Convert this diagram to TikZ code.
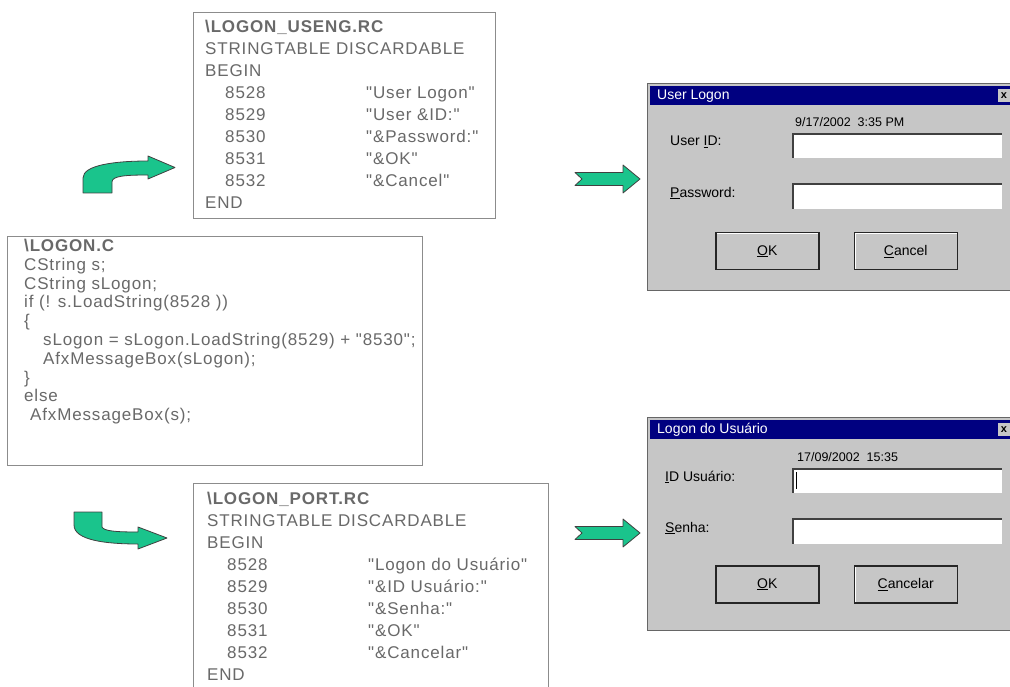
\documentclass[tikz,border=0pt]{standalone}
\usepackage{fontspec}
\setmainfont{Liberation Sans}
\newfontfamily\codefont[LetterSpace=5]{Liberation Sans}
\usetikzlibrary{positioning}

\definecolor{codegray}{RGB}{105,105,105}
\definecolor{boxgray}{RGB}{140,140,140}
\definecolor{arrowgreen}{RGB}{26,196,140}
\definecolor{dlggray}{RGB}{198,198,198}
\definecolor{navy}{RGB}{0,0,128}

\begin{document}
\begin{tikzpicture}[
    x=1pt, y=-1pt,
    codebox/.style={rectangle, draw=boxgray, line width=1.3pt, fill=white, anchor=north west, inner sep=0pt},
    codetext/.style={align=left, inner sep=0pt, text=codegray, font=\codefont\fontsize{17}{22}\selectfont},
    blockarrow/.style={fill=arrowgreen, draw=black!75, line width=0.8pt, line join=round},
    dialog/.style={rectangle, fill=dlggray, draw=black!60, line width=1.2pt, anchor=north west, inner sep=0pt},
    titlebar/.style={rectangle, fill=navy, anchor=north west, inner sep=0pt},
    titletext/.style={text=white, font=\fontsize{14}{16}\selectfont, anchor=west, inner sep=0pt},
    dlglabel/.style={font=\fontsize{14}{16}\selectfont, anchor=west, inner sep=0pt},
    datetext/.style={font=\fontsize{12.5}{14}\selectfont, anchor=west, inner sep=0pt},
    field/.style={rectangle, fill=white, anchor=north west, inner sep=0pt, minimum width=210pt, minimum height=25pt,
      path picture={\draw[black!75, line width=3pt] (path picture bounding box.south west) |- (path picture bounding box.north east);}},
    button/.style={rectangle, fill=dlggray, draw=black!85, line width=1.5pt, inner sep=0pt, anchor=north west,
      minimum width=103pt, minimum height=37pt, font=\fontsize{14}{16}\selectfont,
      path picture={\draw[white, line width=3pt] (path picture bounding box.south west) |- (path picture bounding box.north east);}},
    closebox/.style={rectangle, fill=dlggray, inner sep=0pt, minimum width=13pt, minimum height=13pt, font=\bfseries\fontsize{11}{11}\selectfont}
    ]

    \useasboundingbox (0,0) rectangle (1010,687);

    % English string table
    \node[codebox, minimum width=302pt, minimum height=206pt] (useng) at (193,12) {};
    \node[codetext, below right=8pt and 12pt of useng.north west] (usengtext) {%
      \textbf{\textbackslash LOGON\_USENG.RC}\\
      STRINGTABLE DISCARDABLE\\
      BEGIN\\
      \hspace*{20pt}\makebox[141pt][l]{8528}"User Logon"\\
      \hspace*{20pt}\makebox[141pt][l]{8529}"User \&ID:"\\
      \hspace*{20pt}\makebox[141pt][l]{8530}"\&Password:"\\
      \hspace*{20pt}\makebox[141pt][l]{8531}"\&OK"\\
      \hspace*{20pt}\makebox[141pt][l]{8532}"\&Cancel"\\
      END};

    % Source file
    \node[codebox, minimum width=415pt, minimum height=229pt] (logonc) at (7,236) {};
    \node[codetext, font=\codefont\fontsize{17}{18.8}\selectfont, below right=3pt and 17pt of logonc.north west] (logonctext) {%
      \textbf{\textbackslash LOGON.C}\\
      CString s;\\
      CString sLogon;\\
      if (! s.LoadString(8528 ))\\
      \{\\
      \hspace*{19pt}sLogon = sLogon.LoadString(8529) + "8530";\\
      \hspace*{19pt}AfxMessageBox(sLogon);\\
      \}\\
      else\\
      \hspace*{6pt}AfxMessageBox(s);};

    % Portuguese string table
    \node[codebox, minimum width=355pt, minimum height=225pt] (port) at (193,483) {};
    \node[codetext, below right=9pt and 14pt of port.north west] (porttext) {%
      \textbf{\textbackslash LOGON\_PORT.RC}\\
      STRINGTABLE DISCARDABLE\\
      BEGIN\\
      \hspace*{20pt}\makebox[141pt][l]{8528}"Logon do Usuário"\\
      \hspace*{20pt}\makebox[141pt][l]{8529}"\&ID Usuário:"\\
      \hspace*{20pt}\makebox[141pt][l]{8530}"\&Senha:"\\
      \hspace*{20pt}\makebox[141pt][l]{8531}"\&OK"\\
      \hspace*{20pt}\makebox[141pt][l]{8532}"\&Cancelar"\\
      END};

    % Bent arrows out of the source file
    \draw[blockarrow] (83,193) -- (83,178) .. controls (83,165) and (115,161) .. (148,161) -- (148,156) -- (175,167.5)
      -- (148,179) -- (148,175) .. controls (125,175) and (112,176) .. (112,182) -- (112,193) -- cycle;
    \draw[blockarrow] (74,512) -- (102,512) -- (102,527) .. controls (104,531) and (115,532) .. (138,532) -- (138,527)
      -- (167,538) -- (138,549) -- (138,544) .. controls (105,544) and (74,540) .. (74,525) -- cycle;

    % Straight arrows to the dialogs
    \draw[blockarrow] (575,172.5) -- (623,172.5) -- (623,165) -- (640,179) -- (623,193) -- (623,185.5) -- (575,185.5) -- (582,179) -- cycle;
    \draw[blockarrow] (575,526.5) -- (623,526.5) -- (623,519) -- (640,533) -- (623,547) -- (623,539.5) -- (575,539.5) -- (582,533) -- cycle;

    % English dialog
    \node[dialog, minimum width=370pt, minimum height=207pt] (dlgeng) at (647,83) {};
    \node[titlebar, minimum width=365pt, minimum height=19pt] (bareng) at (650,86) {};
    \node[titletext, right=7pt of bareng.west] (ttleng) {User Logon};
    \node[closebox] (closeeng) at (1004,95.5) {x};
    \node[datetext] (dateeng) at (795,122) {9/17/2002\ \ 3:35 PM};
    \node[dlglabel] (ideng) at (670,142) {User \underline{I}D:};
    \node[dlglabel] (pwdeng) at (670,193) {\underline{P}assword:};
    \node[field] (fideng) at (792,133) {};
    \node[field, below=25pt of fideng] (fpwdeng) {};
    \node[button] (okeng) at (715,232) {\underline{O}K};
    \node[button, right=34pt of okeng] (canceleng) {\underline{C}ancel};

    % Portuguese dialog
    \node[dialog, minimum width=370pt, minimum height=213pt] (dlgport) at (647,417) {};
    \node[titlebar, minimum width=365pt, minimum height=19pt] (barport) at (650,420) {};
    \node[titletext, right=7pt of barport.west] (ttlport) {Logon do Usuário};
    \node[closebox] (closeport) at (1004,429.5) {x};
    \node[datetext] (dateport) at (797,457) {17/09/2002\ \ 15:35};
    \node[dlglabel] (idport) at (665,477) {\underline{I}D Usuário:};
    \node[dlglabel] (pwdport) at (665,528) {\underline{S}enha:};
    \node[field] (fidport) at (792,468) {};
    \node[field, below=25pt of fidport] (fpwdport) {};
    \draw[line width=1pt] ([xshift=4pt,yshift=-4pt]fidport.north west) -- ([xshift=4pt,yshift=4pt]fidport.south west);
    \node[button] (okport) at (715,565) {\underline{O}K};
    \node[button, right=34pt of okport] (cancelport) {\underline{C}ancelar};

  \end{tikzpicture}
\end{document}
